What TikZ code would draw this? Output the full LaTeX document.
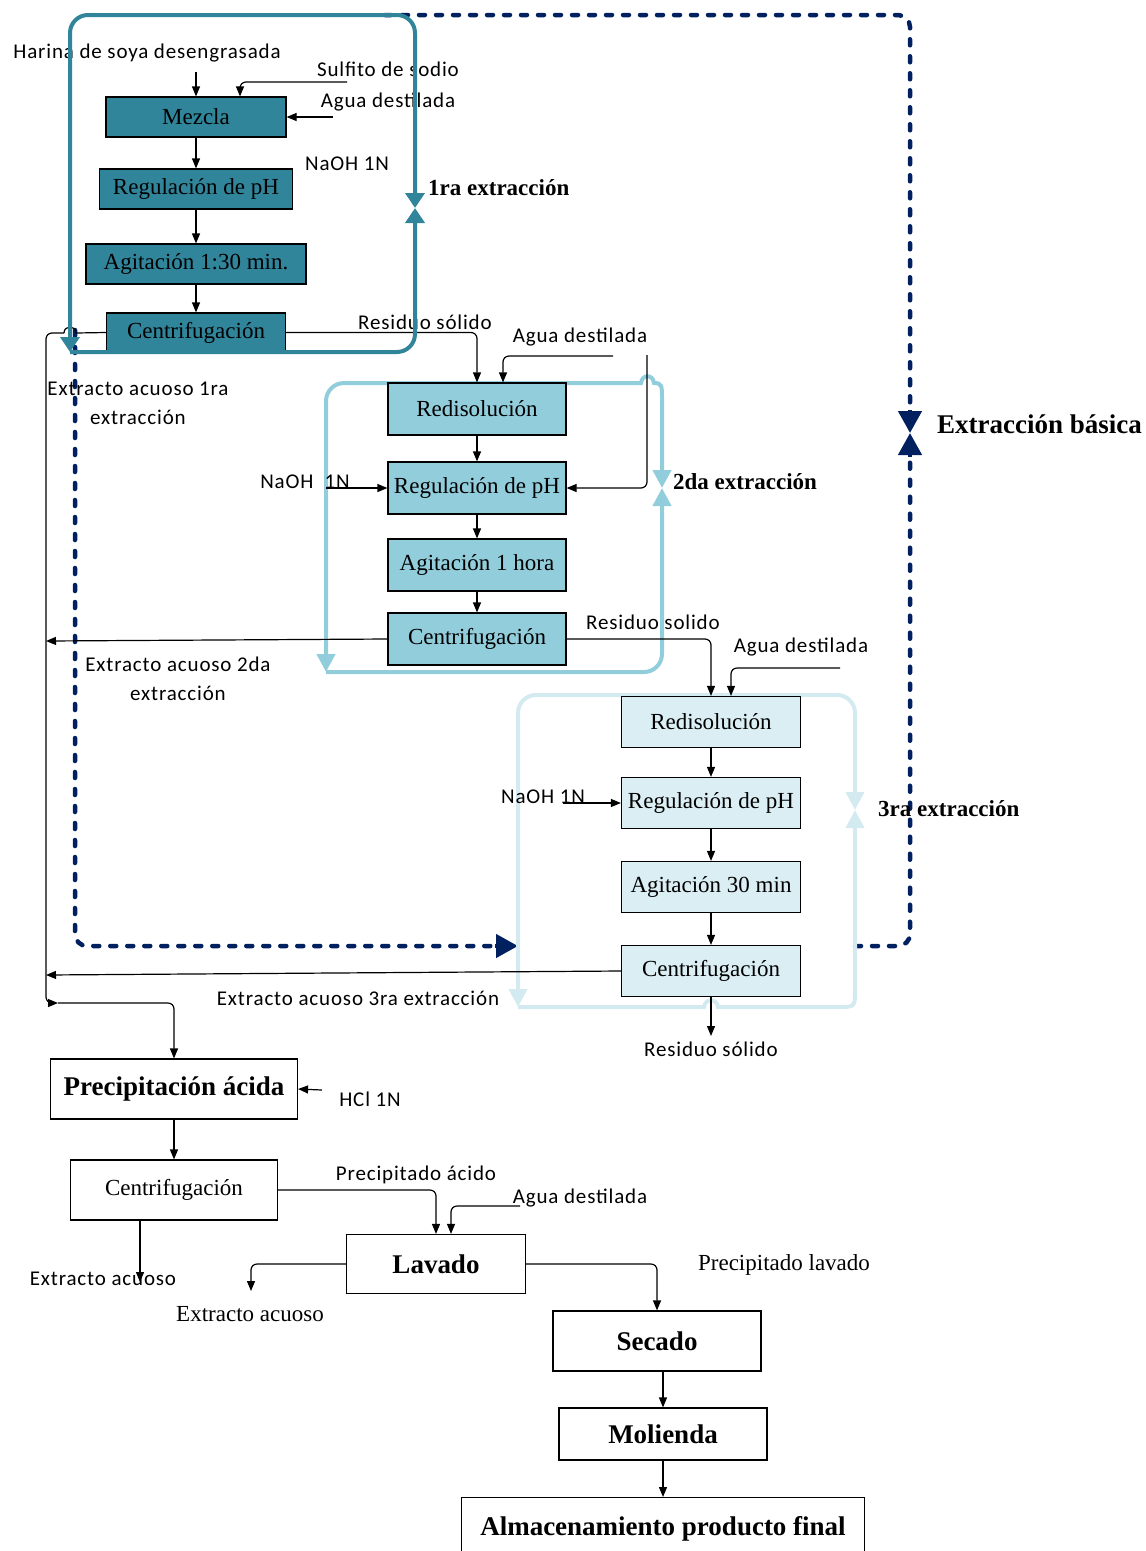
\documentclass[tikz,border=0pt]{standalone}
\usepackage{fontspec}
\setmainfont{Liberation Serif}
\newfontfamily\calib[LetterSpace=4]{Carlito}
\usetikzlibrary{arrows.meta}
\definecolor{tealA}{RGB}{49,133,155}
\definecolor{blueB}{RGB}{146,205,220}
\definecolor{blueC}{RGB}{218,238,243}
\definecolor{loopC}{RGB}{212,234,241}
\definecolor{navyD}{RGB}{0,32,96}
\begin{document}
\begin{tikzpicture}[x=1pt,y=-1pt,
 box/.style={draw=black,line width=1.2pt,inner sep=0pt,font=\fontsize{23}{26}\selectfont},
 b1/.style={box,fill=tealA},
 b2/.style={box,fill=blueB},
 b3/.style={box,fill=blueC},
 bw/.style={box,fill=white},
 bb/.style={box,fill=white,font=\fontsize{27}{30}\selectfont\bfseries},
 lbl/.style={inner sep=0pt,font=\calib\fontsize{21}{29}\selectfont,align=center},
 slbl/.style={inner sep=0pt,font=\fontsize{23}{26}\selectfont},
 blbl/.style={inner sep=0pt,font=\fontsize{23}{26}\selectfont\bfseries,anchor=west},
 ln/.style={line width=1.2pt,rounded corners=6pt},
 arr/.style={ln,-{Triangle[length=10pt,width=8pt]}},
 lw4/.style={line width=4pt},
 tl/.style={line width=4pt,rounded corners=18pt},
 ttip/.style={-{Triangle[length=15pt,width=19pt]}},
 ltip/.style={-{Triangle[length=18pt,width=18pt]}},
 ntip/.style={-{Triangle[length=22pt,width=23pt]}},
 nd/.style={navyD,line width=4.5pt,dash pattern=on 6pt off 11pt,line cap=round,rounded corners=12pt},
]
\useasboundingbox (0,0) rectangle (1146,1551);

% ---------- navy dashed loop (Extraccion basica)
\draw[nd] (385,15) -- (910,15) -- (910,408);
\coordinate (nb1) at (910,410);
\coordinate (nbm) at (910,433);
\coordinate (nb2) at (910,457);
\draw[navyD,line width=4.5pt,ntip] (nb1) -- (nbm);
\draw[nd] (855,946) -- (910,946) -- (910,462);
\draw[navyD,line width=4.5pt,ntip] (nb2) -- (nbm);
\draw[nd] (75,330) -- (75,946) -- (492,946);
\coordinate (nl1) at (495,946);
\coordinate (nl2) at (518,946);
\draw[navyD,line width=4.5pt,ntip] (nl1) -- (nl2);

% ---------- loop 2
\draw[blueB,tl,ltip] (480,383) -- (326,383) -- (326,672);
\draw[blueB,tl,ltip] (326,672) -- (662,672) -- (662,488);
\draw[blueB,lw4,ltip] (480,383) -- (641,383) .. controls (642,374) and (653,374) .. (654,383) .. controls (662,383) and (662,386) .. (662,398) -- (662,488);

% ---------- loop 3
\draw[loopC,tl,ltip] (600,695) -- (518,695) -- (518,1007);
\draw[loopC,tl,ltip] (600,695) -- (855,695) -- (855,810);
\draw[loopC,lw4,ltip] (518,1007) -- (704,1007) .. controls (705,998) and (717,998) .. (718,1007) -- (838,1007) .. controls (855,1007) .. (855,990) -- (855,810);

% ---------- block 1 boxes
\node[b1,minimum width=180pt,minimum height=40pt] (m1) at (196,117) {Mezcla};
\node[b1,minimum width=193pt,minimum height=40pt] (r1) at (196,189) {Regulación de pH};
\node[b1,minimum width=220pt,minimum height=40pt] (a1) at (196,264) {Agitación 1:30 min.};
\node[b1,minimum width=179pt,minimum height=39pt] (c1) at (196,332.5) {Centrifugación};

% ---------- block 2 boxes
\node[b2,minimum width=178pt,minimum height=52pt] (red2) at (477,409) {Redisolución};
\node[b2,minimum width=178pt,minimum height=52pt] (reg2) at (477,488) {Regulación de pH};
\node[b2,minimum width=178pt,minimum height=52pt] (ag2) at (477,565) {Agitación 1 hora};
\node[b2,minimum width=178pt,minimum height=52pt] (c2) at (477,639) {Centrifugación};

% ---------- block 3 boxes
\node[b3,minimum width=179pt,minimum height=51pt] (red3) at (711,722) {Redisolución};
\node[b3,minimum width=179pt,minimum height=51pt] (reg3) at (711,803) {Regulación de pH};
\node[b3,minimum width=179pt,minimum height=51pt] (ag3) at (711,887) {Agitación 30 min};
\node[b3,minimum width=179pt,minimum height=51pt] (c3) at (711,971) {Centrifugación};

% ---------- bottom boxes
\node[bb,minimum width=247pt,minimum height=60pt] (pa) at (174,1089) {Precipitación ácida};
\node[bw,minimum width=207pt,minimum height=60pt] (cb) at (174,1190) {Centrifugación};
\node[bb,minimum width=179pt,minimum height=59pt] (lav) at (436,1264) {Lavado};
\node[bb,minimum width=208pt,minimum height=60pt] (sec) at (657,1341) {Secado};
\node[bb,minimum width=208pt,minimum height=52pt] (mol) at (663,1434) {Molienda};
\node[bb,minimum width=403pt,minimum height=62pt,anchor=north] (alm) at (663,1497) {Almacenamiento producto final};

% ---------- labels
\node[lbl] (t1) at (147,53) {Harina de soya desengrasada};
\node[lbl] (t2) at (388,69) {Sulfito de sodio};
\node[lbl] (t3) at (388,102) {Agua destilada};
\node[lbl] (t4) at (347,164) {NaOH 1N};
\node[lbl] (t5) at (425,322) {Residuo sólido};
\node[lbl] (t6) at (580,337) {Agua destilada};
\node[lbl] (t7) at (138,403) {Extracto acuoso 1ra\\extracción};
\node[lbl] (t8) at (305,482) {NaOH \ 1N};
\node[lbl] (t9) at (653,622) {Residuo solido};
\node[lbl] (t10) at (801,647) {Agua destilada};
\node[lbl] (t11) at (178,679) {Extracto acuoso 2da\\extracción};
\node[lbl] (t12) at (543,797) {NaOH 1N};
\node[lbl] (t13) at (358,998) {Extracto acuoso 3ra extracción};
\node[lbl] (t14) at (711,1049) {Residuo sólido};
\node[lbl] (t15) at (370,1099) {HCl 1N};
\node[lbl] (t16) at (103,1279) {Extracto acuoso};
\node[lbl] (t17) at (416,1175) {Precipitado ácido};
\node[lbl] (t18) at (580,1198) {Agua destilada};
\node[slbl] (t19) at (250,1314) {Extracto acuoso};
\node[slbl] (t20) at (784,1265) {Precipitado lavado};
\node[blbl] (e1) at (428,188) {1ra extracción};
\node[blbl] (e2) at (673,482) {2da extracción};
\node[blbl] (e3) at (878,809) {3ra extracción};
\node[blbl,font=\fontsize{27}{30}\selectfont\bfseries] (e4) at (937,424) {Extracción básica};

% ---------- block 1 connectors
\coordinate (h1) at (196,72);
\draw[arr] (h1) -- (m1.north);
\coordinate (s1) at (347,82);
\draw[arr] (s1) -| ([xshift=44pt]m1.north);
\coordinate (w1) at (333,117);
\draw[arr] (w1) -- (m1.east);
\draw[arr] (m1) -- (r1);
\draw[arr] (r1) -- (a1);
\draw[arr] (a1) -- (c1);
\draw[arr] (c1.east) -| (red2.north);

% left collector line
\coordinate (k1) at (76,333);
\coordinate (k2) at (64,333);
\coordinate (j1) at (58,1003);
\draw[ln] (c1.west) -- (k1);
\draw[ln] (k1) .. controls (76,325) and (64,325) .. (k2);
\draw[arr] (k2) -- (46,333) -- (46,1003) -- (j1);
\draw[arr] (j1) -| (pa.north);

% ---------- block 2 connectors
\coordinate (w2) at (613,356);
\draw[arr] (w2) -| ([xshift=26pt]red2.north);
\coordinate (w2b) at (647,355);
\draw[arr] (w2b) |- (reg2.east);
\coordinate (n2) at (326,488);
\draw[arr] (n2) -- (reg2.west);
\draw[arr] (red2) -- (reg2);
\draw[arr] (reg2) -- (ag2);
\draw[arr] (ag2) -- (c2);
\coordinate (x2) at (46,641);
\draw[arr] (c2.west) -- (x2);
\draw[arr] (c2.east) -| (red3.north);

% ---------- block 3 connectors
\coordinate (w3) at (840,668);
\draw[arr] (w3) -| ([xshift=20pt]red3.north);
\coordinate (n3) at (563,803);
\draw[arr] (n3) -- (reg3.west);
\draw[arr] (red3) -- (reg3);
\draw[arr] (reg3) -- (ag3);
\draw[arr] (ag3) -- (c3);
\coordinate (x3) at (46,975);
\draw[arr] (c3.west) -- (x3);
\coordinate (rs3) at (711,1036);
\draw[arr] (c3.south) -- (rs3);

% ---------- bottom connectors
\coordinate (hcl) at (322,1090);
\draw[arr] (hcl) -- (pa.east);
\draw[arr] (pa) -- (cb);
\coordinate (ea1) at (140,1282);
\draw[arr] (cb.south -| ea1) -- (ea1);
\draw[arr] (cb.east) -| (lav.north);
\coordinate (w4) at (520,1206);
\draw[arr] (w4) -| ([xshift=15pt]lav.north);
\coordinate (ea2) at (251,1291);
\draw[arr] (lav.west) -| (ea2);
\draw[arr] (lav.east) -| (sec.north);
\draw[arr] (mol.north |- sec.south) -- (mol.north);
\draw[arr] (mol) -- (alm);

% ---------- teal loop (1ra extraccion)
\draw[tealA,tl,ttip] (240,15) -- (415,15) -- (415,208);
\draw[tealA,tl,ttip] (240,15) -- (70,15) -- (70,352);
\draw[tealA,tl,ttip] (70,352) -- (415,352) -- (415,208);
\end{tikzpicture}
\end{document}
